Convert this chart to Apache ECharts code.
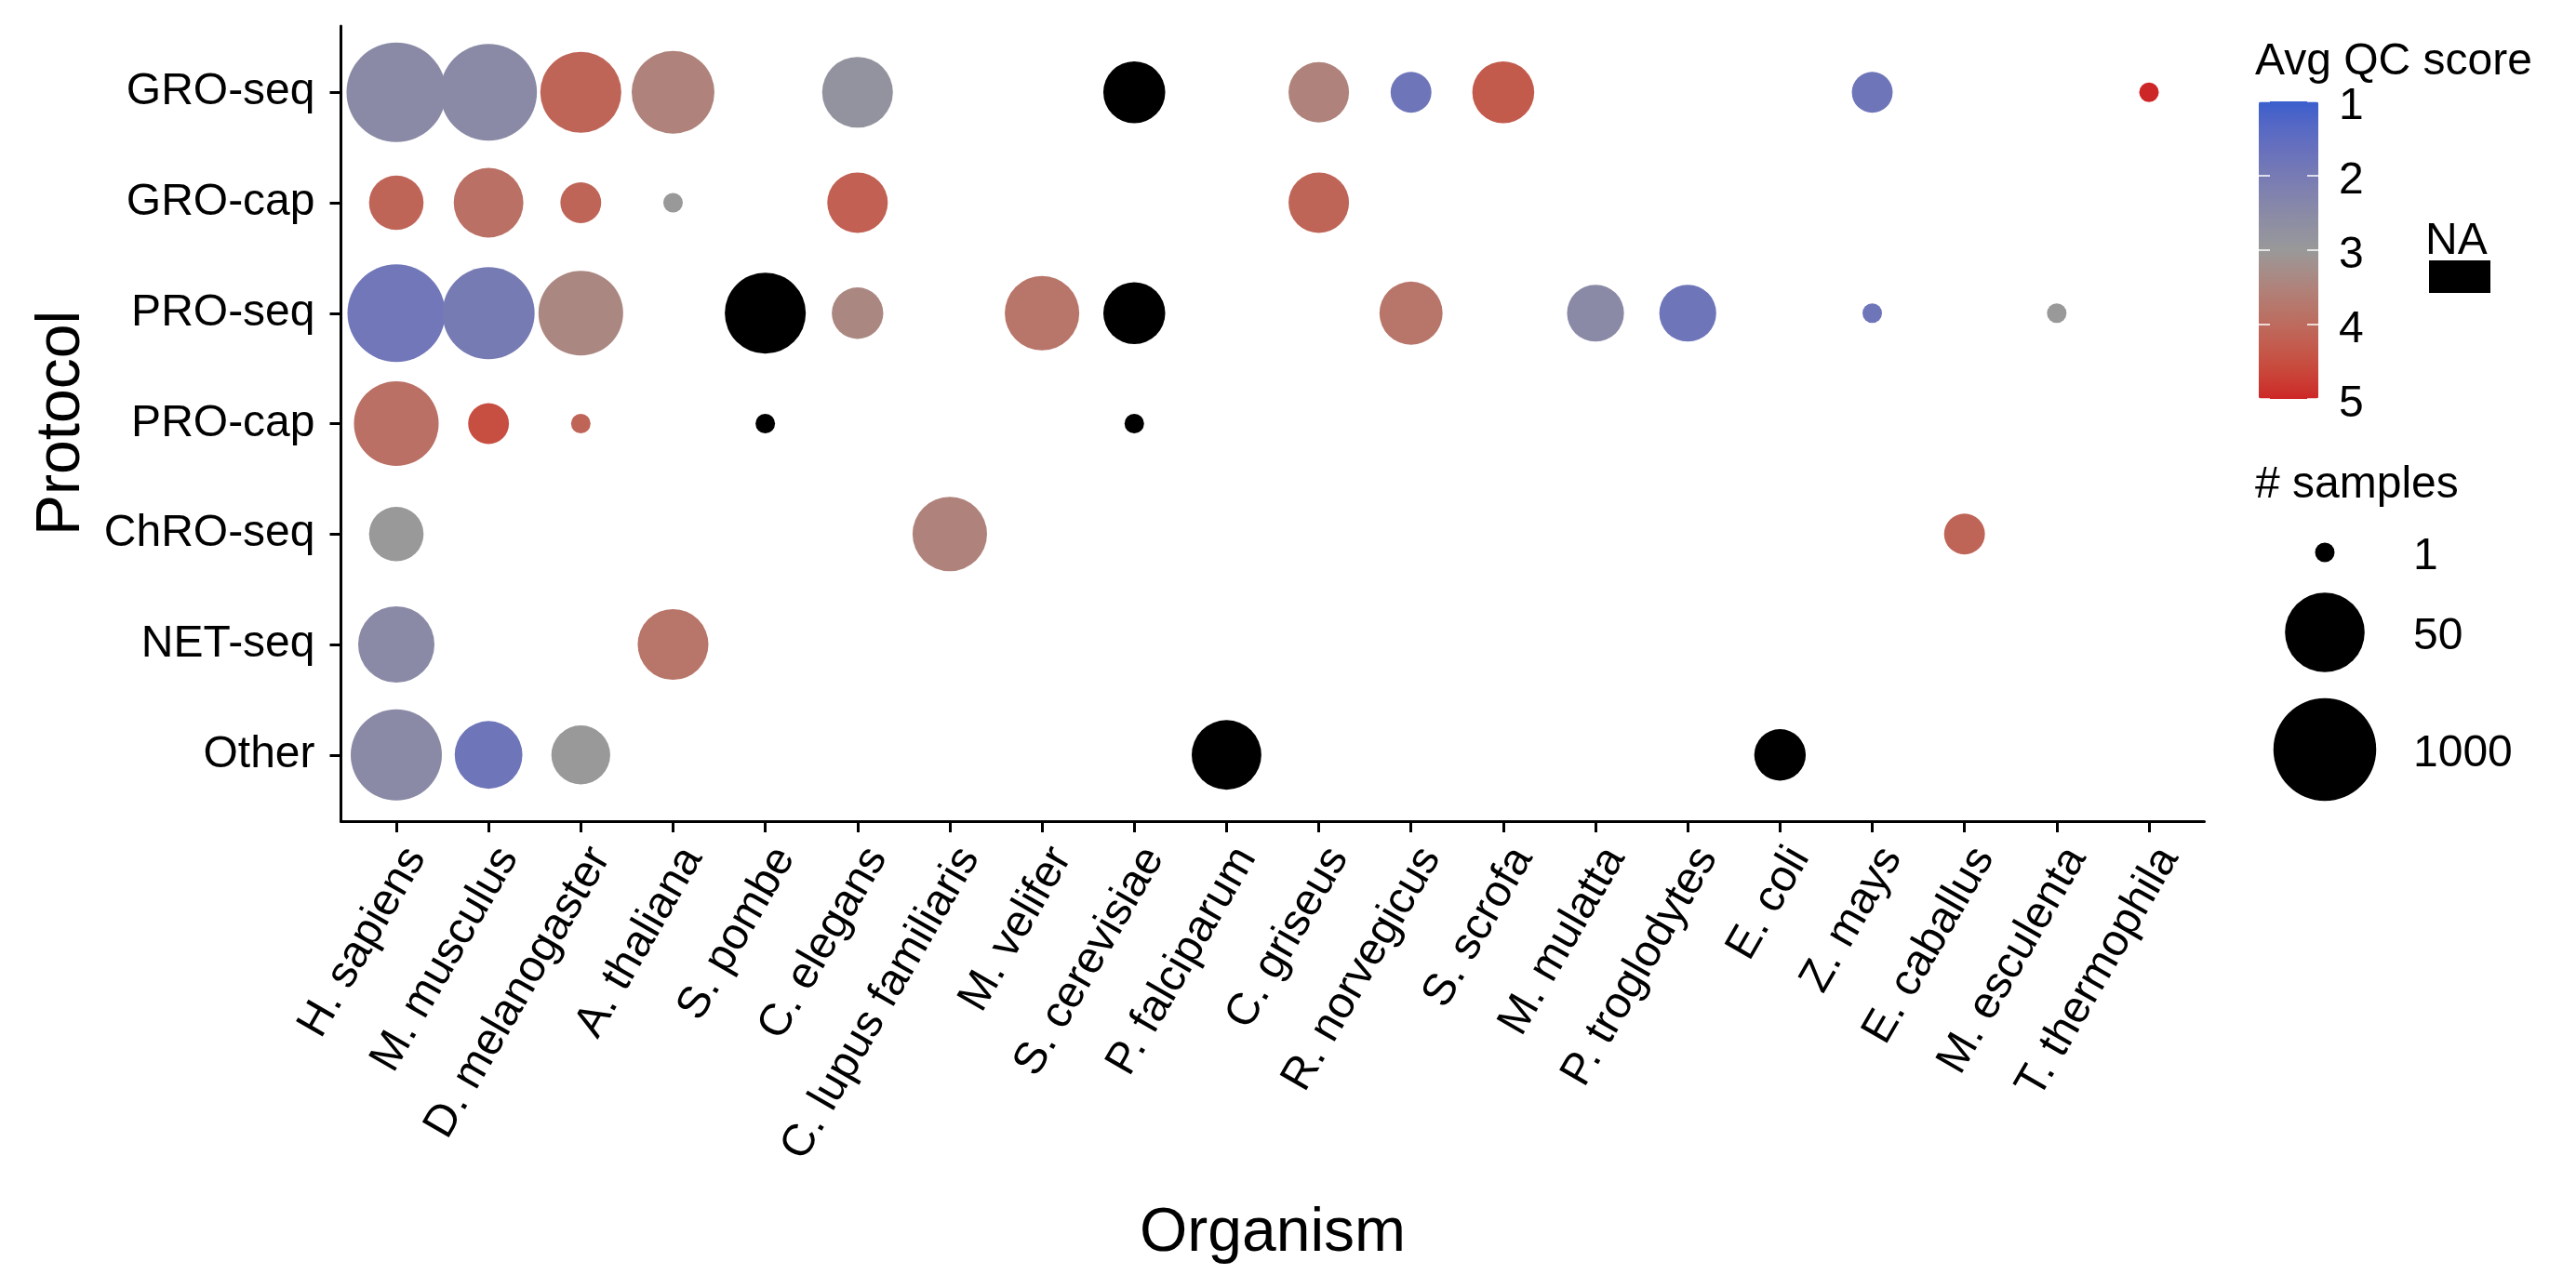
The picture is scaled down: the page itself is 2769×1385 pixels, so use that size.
<!DOCTYPE html>
<html><head><meta charset="utf-8">
<script src="https://cdn.jsdelivr.net/npm/echarts@6/dist/echarts.min.js"></script>
<style>html,body{margin:0;padding:0;background:#fff}#chart{width:2769px;height:1385px}</style>
</head><body><div id="chart"></div>
<script>
// ---------- data ----------
const organisms = ['H. sapiens','M. musculus','D. melanogaster','A. thaliana','S. pombe','C. elegans',
  'C. lupus familiaris','M. velifer','S. cerevisiae','P. falciparum','C. griseus','R. norvegicus',
  'S. scrofa','M. mulatta','P. troglodytes','E. coli','Z. mays','E. caballus','M. esculenta','T. thermophila'];
const protocols = ['GRO-seq','GRO-cap','PRO-seq','PRO-cap','ChRO-seq','NET-seq','Other'];

const bubbleOrganism = [
  'H. sapiens','M. musculus','D. melanogaster','A. thaliana','C. elegans','S. cerevisiae','C. griseus','R. norvegicus','S. scrofa','Z. mays','T. thermophila',
  'H. sapiens','M. musculus','D. melanogaster','A. thaliana','C. elegans','C. griseus',
  'H. sapiens','M. musculus','D. melanogaster','S. pombe','C. elegans','M. velifer','S. cerevisiae','R. norvegicus','M. mulatta','P. troglodytes','Z. mays','M. esculenta',
  'H. sapiens','M. musculus','D. melanogaster','S. pombe','S. cerevisiae',
  'H. sapiens','C. lupus familiaris','E. caballus',
  'H. sapiens','A. thaliana',
  'H. sapiens','M. musculus','D. melanogaster','P. falciparum','E. coli'];
const bubbleProtocol = [
  'GRO-seq','GRO-seq','GRO-seq','GRO-seq','GRO-seq','GRO-seq','GRO-seq','GRO-seq','GRO-seq','GRO-seq','GRO-seq',
  'GRO-cap','GRO-cap','GRO-cap','GRO-cap','GRO-cap','GRO-cap',
  'PRO-seq','PRO-seq','PRO-seq','PRO-seq','PRO-seq','PRO-seq','PRO-seq','PRO-seq','PRO-seq','PRO-seq','PRO-seq','PRO-seq',
  'PRO-cap','PRO-cap','PRO-cap','PRO-cap','PRO-cap',
  'ChRO-seq','ChRO-seq','ChRO-seq',
  'NET-seq','NET-seq',
  'Other','Other','Other','Other','Other'];
const bubbleSamples = [
  621, 419, 58, 71, 20, 9, 8, 2, 9, 2, 1,
  5, 18, 2, 1, 8, 8,
  476, 224, 89, 58, 4, 29, 9, 10, 6, 6, 1, 1,
  89, 2, 1, 1, 1,
  5, 29, 2,
  35, 20,
  198, 15, 7, 18, 4];
const bubbleQC = [
  2.5, 2.5, 4.1, 3.5, 2.8, null, 3.5, 1.8, 4.3, 1.8, 5.0,
  4.1, 3.9, 4.1, 3.0, 4.2, 4.1,
  1.85, 2.0, 3.4, null, 3.4, 3.8, null, 3.8, 2.5, 1.8, 1.8, 3.0,
  3.9, 4.5, 4.1, null, null,
  3.0, 3.5, 4.1,
  2.5, 3.8,
  2.5, 1.8, 3.0, null, null];

const qcTicks = [1, 2, 3, 4, 5];
const qcLimits = [1, 5];
const sampleBreaks = [1, 50, 1000];
const sampleLimits = [1, 1000];

// ---------- scales ----------
const FONT = 'Liberation Sans';
const SIZE_MIN = 21, SIZE_MAX = 110.5;
function sizeOf(n) {
  const a = Math.log(sampleLimits[0] + 1), b = Math.log(sampleLimits[1] + 1);
  const t = Math.max(0, (Math.log(n + 1) - a) / (b - a));
  return SIZE_MIN + (SIZE_MAX - SIZE_MIN) * Math.sqrt(t);
}
const LOW = '#3A5FCD', MID = '#999999', HIGH = '#CD2626';
function hex2rgb(h){return [1,3,5].map(i=>parseInt(h.substr(i,2),16));}
function s2l(c){c/=255;return c<=0.04045?c/12.92:Math.pow((c+0.055)/1.055,2.4);}
function l2s(c){c=c<=0.0031308?12.92*c:1.055*Math.pow(c,1/2.4)-0.055;return Math.round(Math.min(1,Math.max(0,c))*255);}
const WX=0.95047, WY=1, WZ=1.08883;
function ff(t){return t>216/24389?Math.cbrt(t):(24389/27*t+16)/116;}
function fi(t){return t*t*t>216/24389?t*t*t:(116*t-16)/(24389/27);}
function rgb2lab(rgb){const [r,g,b]=rgb.map(s2l);
  const X=(0.4124*r+0.3576*g+0.1805*b)/WX, Y=(0.2126*r+0.7152*g+0.0722*b)/WY, Z=(0.0193*r+0.1192*g+0.9505*b)/WZ;
  const fx=ff(X),fy=ff(Y),fz=ff(Z); return [116*fy-16,500*(fx-fy),200*(fy-fz)];}
function lab2rgb(lab){const fy=(lab[0]+16)/116, fx=fy+lab[1]/500, fz=fy-lab[2]/200;
  const X=fi(fx)*WX, Y=fi(fy)*WY, Z=fi(fz)*WZ;
  return [3.2406*X-1.5372*Y-0.4986*Z, -0.9689*X+1.8758*Y+0.0415*Z, 0.0557*X-0.2040*Y+1.0570*Z].map(l2s);}
function mixLab(h1,h2,t){const a=rgb2lab(hex2rgb(h1)), b=rgb2lab(hex2rgb(h2));
  const c=lab2rgb(a.map((v,i)=>v+(b[i]-v)*t)); return 'rgb('+c.join(',')+')';}
const mid = (qcLimits[0] + qcLimits[1]) / 2;
const colorStops = [];
for (let i = 0; i <= 40; i++) {
  const q = qcLimits[0] + i * (qcLimits[1] - qcLimits[0]) / 40;
  colorStops.push(q <= mid ? mixLab(LOW, MID, (q - qcLimits[0]) / (mid - qcLimits[0]))
                           : mixLab(MID, HIGH, (q - mid) / (qcLimits[1] - mid)));
}

// ---------- series data ----------
const scored = [], missing = [];
bubbleOrganism.forEach((o, i) => {
  const v = [organisms.indexOf(o), protocols.indexOf(bubbleProtocol[i]), bubbleQC[i], bubbleSamples[i]];
  (bubbleQC[i] == null ? missing : scored).push(v);
});

// ---------- legend geometry ----------
const CB = {x: 2428, y: 109, w: 64, h: 320};
const qcY = q => CB.y + (q - qcLimits[0]) / (qcLimits[1] - qcLimits[0]) * CB.h;
const graphics = [];
graphics.push({type:'text', style:{text:'Organism', x:1368, y:1327, textAlign:'center', textVerticalAlign:'middle', fontSize:66, fontFamily:FONT, fill:'#000'}});
graphics.push({type:'text', x:67, y:455, rotation:Math.PI/2, style:{text:'Protocol', x:0, y:0, textAlign:'center', textVerticalAlign:'middle', fontSize:66, fontFamily:FONT, fill:'#000'}});
graphics.push({type:'text', style:{text:'Avg QC score', x:2424, y:67, textAlign:'left', textVerticalAlign:'middle', fontSize:48, fontFamily:FONT, fill:'#000'}});
qcTicks.forEach(q => {
  const y = qcY(q);
  graphics.push({type:'line', z:100, shape:{x1:CB.x, y1:y, x2:CB.x+12, y2:y}, style:{stroke:'#fff', lineWidth:1.5}});
  graphics.push({type:'line', z:100, shape:{x1:CB.x+CB.w-12, y1:y, x2:CB.x+CB.w, y2:y}, style:{stroke:'#fff', lineWidth:1.5}});
  graphics.push({type:'text', style:{text:String(q), x:2514, y:y+6, textAlign:'left', textVerticalAlign:'middle', fontSize:48, fontFamily:FONT, fill:'#000'}});
});
graphics.push({type:'text', style:{text:'NA', x:2607, y:260, textAlign:'left', textVerticalAlign:'middle', fontSize:48, fontFamily:FONT, fill:'#000'}});
graphics.push({type:'rect', shape:{x:2611, y:280, width:66, height:35}, style:{fill:'#000'}});
graphics.push({type:'text', style:{text:'# samples', x:2424, y:522, textAlign:'left', textVerticalAlign:'middle', fontSize:48, fontFamily:FONT, fill:'#000'}});
const legendY = [594, 680, 806];
sampleBreaks.forEach((n, i) => {
  graphics.push({type:'circle', shape:{cx:2499, cy:legendY[i], r:sizeOf(n)/2}, style:{fill:'#000'}});
  graphics.push({type:'text', style:{text:String(n), x:2594, y:legendY[i]+5, textAlign:'left', textVerticalAlign:'middle', fontSize:48, fontFamily:FONT, fill:'#000'}});
});

const xIdx = organisms.map((_, i) => i);
const yIdx = protocols.map((_, i) => i);
const chart = echarts.init(document.getElementById('chart'), null, {renderer:'canvas'});
chart.setOption({
  backgroundColor: '#fff',
  animation: false,
  grid: {left: 366.5, top: 28, width: 2003, height: 855, containLabel: false},
  xAxis: {
    type:'value', min:-0.6, max:19.6,
    axisLine:{show:true, onZero:false, lineStyle:{color:'#000', width:3}},
    axisTick:{show:true, length:12, lineStyle:{color:'#000', width:3}, customValues:xIdx},
    axisLabel:{customValues:xIdx, formatter:v=>organisms[v], rotate:60, verticalAlign:'top', fontSize:48, fontFamily:FONT, color:'#000', margin:20},
    splitLine:{show:false}
  },
  yAxis: {
    type:'value', min:-0.6, max:6.6, inverse:true,
    axisLine:{show:true, onZero:false, lineStyle:{color:'#000', width:3}},
    axisTick:{show:true, length:12, lineStyle:{color:'#000', width:3}, customValues:yIdx},
    axisLabel:{customValues:yIdx, formatter:v=>protocols[v], fontSize:48, fontFamily:FONT, color:'#000', margin:28},
    splitLine:{show:false}
  },
  visualMap: {
    type:'continuous', min:qcLimits[0], max:qcLimits[1], dimension:2, seriesIndex:0,
    inRange:{color:colorStops}, inverse:true, orient:'vertical',
    itemWidth:CB.w, itemHeight:CB.h, left:CB.x, top:CB.y, padding:0,
    calculable:false, text:null, showLabel:false, hoverLink:false
  },
  graphic: graphics,
  series: [
    {type:'scatter', data:scored, symbol:'circle', symbolSize:v=>sizeOf(v[3]), itemStyle:{opacity:1}},
    {type:'scatter', data:missing, symbol:'circle', symbolSize:v=>sizeOf(v[3]), itemStyle:{color:'#000', opacity:1}}
  ]
});
</script></body></html>
